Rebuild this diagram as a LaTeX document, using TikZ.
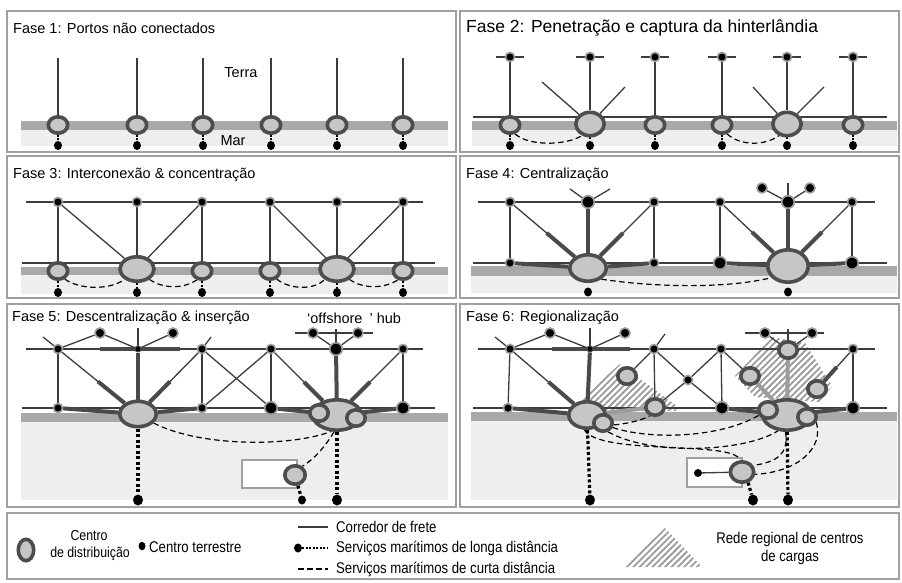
\documentclass[tikz,border=0pt]{standalone}
\usepackage{fontspec}
\setmainfont{Liberation Sans}
\newfontfamily\narrowfont[FakeStretch=0.85]{Liberation Sans}
\usetikzlibrary{shapes.geometric,patterns.meta,calc}
\pgfdeclarelayer{bg}\pgfdeclarelayer{lines}
\pgfsetlayers{bg,lines,main}
\definecolor{framec}{HTML}{A0A0A0}
\definecolor{bandc}{HTML}{A9A9A9}
\definecolor{seac}{HTML}{EEEEEE}
\definecolor{ringc}{HTML}{4D4D4D}
\definecolor{fillc}{HTML}{C6C6C6}
\definecolor{linec}{HTML}{3C3C3C}
\definecolor{thickc}{HTML}{4A4A4A}
\definecolor{grayc}{HTML}{9C9C9C}
\definecolor{tcring}{HTML}{9A9A9A}
\definecolor{hatchc}{HTML}{9A9A9A}
\begin{document}
\begin{tikzpicture}[x=1pt,y=-1pt,
 panelframe/.style={draw=framec,line width=2pt},
 dcn/.style={ellipse,draw=ringc,line width=3.6pt,fill=fillc,inner sep=0pt},
 dcs/.style={dcn,minimum width=19.4pt,minimum height=16.4pt},
 dcr/.style={dcn,minimum width=18.4pt,minimum height=16.4pt},
 tc/.style={circle,fill=black,draw=tcring,line width=1.6pt,minimum size=9pt,inner sep=0pt},
 tcm/.style={tc,minimum size=10pt},
 tcb/.style={tc,minimum size=12.5pt},
 tcs/.style={circle,fill=black,draw=thickc,line width=1pt,minimum size=6pt,inner sep=0pt},
 seadot/.style={ellipse,fill=black,minimum width=8pt,minimum height=9pt,inner sep=0pt},
 seadotb/.style={ellipse,fill=black,minimum width=10pt,minimum height=11pt,inner sep=0pt},
 cor/.style={draw=linec,line width=1.3pt},
 corthick/.style={draw=thickc,line width=4pt},
 corgray/.style={draw=grayc,line width=4pt},
 shortsea/.style={draw=black,line width=1.2pt,dash pattern=on 5.5pt off 3.5pt},
 longsea/.style={draw=black,line width=3.2pt,dash pattern=on 3pt off 2.5pt},
 link/.style={draw=black,line width=2.5pt,dash pattern=on 2pt off 1.5pt},
 ttl/.style={anchor=west,inner sep=0pt,font=\fontsize{14.5}{16}\selectfont},
 lbl/.style={inner sep=0pt,font=\fontsize{14.5}{16}\selectfont},
 lg/.style={inner sep=0pt,font=\narrowfont\fontsize{15.5}{17}\selectfont},
 hatch/.style={pattern={Lines[angle=45,distance=4.5pt,line width=1.8pt]},pattern color=hatchc},
 island/.style={draw=framec,line width=2.5pt,fill=white}
]
\useasboundingbox (0,0) rectangle (902,583);
\begin{pgfonlayer}{bg}
\fill[white] (0,0) rectangle (902,583);
\foreach \a/\b/\c/\d in {7/11/456/152,460/11/899/152,7/156/456/298,460/156/899/298,7/304/456/507,460/304/899/507,7/513/899/579}
  \draw[panelframe] (\a,\b) rectangle (\c,\d);
\fill[bandc] (21,121) rectangle (448,130); \fill[seac] (21,130) rectangle (448,146);
\fill[bandc] (472,121) rectangle (897,130); \fill[seac] (472,130) rectangle (897,146);
\fill[bandc] (21,267) rectangle (448,275); \fill[seac] (21,275) rectangle (448,294);
\fill[bandc] (471,266) rectangle (897,276); \fill[seac] (471,276) rectangle (897,293);
\fill[bandc] (21,413) rectangle (448,422); \fill[seac] (21,422) rectangle (448,500);
\fill[bandc] (471,412) rectangle (897,421); \fill[seac] (471,421) rectangle (897,500);
\fill[hatch] (574,405) -- (620,364) -- (677,406) -- (676,411) -- (600,411) -- cycle;
\fill[hatch] (735,376) -- (772,337) -- (805,343) -- (832,386) -- (820,402) -- (755,397) -- cycle;
\fill[hatch] (625,567) -- (665,528) -- (702,567) -- cycle;
\draw[island] (242,460) rectangle (297,488);
\draw[island] (687,458) rectangle (742,487);
\end{pgfonlayer}

% titles
\node[ttl] (ti1) at (13,28) {Fase 1: Portos não conectados};
\node[ttl,font=\fontsize{17.5}{19}\selectfont] (ti2) at (466,28) {Fase 2: Penetração e captura da hinterlândia};
\node[ttl] (ti3) at (13,175) {Fase 3: Interconexão \& concentração};
\node[ttl] (ti4) at (466,175) {Fase 4: Centralização};
\node[ttl] (ti5) at (12,318) {Fase 5: Descentralização \& inserção};
\node[ttl] (ti6) at (466,318) {Fase 6: Regionalização};
\node[ttl] (offh) at (307,318) {‘offshore\hspace{7pt}’ hub};
\node[lbl] (terra) at (241,73) {Terra};
\node[lbl] (mar) at (233,141) {Mar};

% ---------- Panel 1
\foreach \i/\x in {1/58,2/137,3/203,4/271,5/337,6/403}{
  \node[dcs] (p1b\i) at (\x,125) {};
  \node[seadot] (p1s\i) at (\x,145.5) {};
  \coordinate (p1t\i) at (\x,58);
  \begin{pgfonlayer}{lines}
  \draw[cor] (p1t\i) -- (p1b\i);
  \draw[link] (p1b\i) -- (p1s\i);
  \end{pgfonlayer}
}

% ---------- Panel 2
\node[dcs] (p2b1) at (510,125) {};
\node[dcn,minimum width=28.4pt,minimum height=23.4pt] (p2b2) at (590,124) {};
\node[dcs] (p2b3) at (655,125) {};
\node[dcs] (p2b4) at (722,125) {};
\node[dcn,minimum width=28.4pt,minimum height=23.4pt] (p2b5) at (787,124) {};
\node[dcs] (p2b6) at (853,125) {};
\coordinate (p2L) at (473,117); \coordinate (p2R) at (887,117);
\coordinate (p2d1) at (542,82); \coordinate (p2d2) at (625,87);
\coordinate (p2d3) at (753,87); \coordinate (p2d4) at (824,87);
\foreach \i/\x in {1/510,2/590,3/655,4/722,5/787,6/853}{
  \node[tc] (p2t\i) at (\x,57) {};
  \node[seadot] (p2s\i) at (\x,145.5) {};
  \begin{pgfonlayer}{lines}
  \draw[cor] ([xshift=-14pt]p2t\i.center) -- ([xshift=14pt]p2t\i.center);
  \draw[cor] (p2t\i) -- (p2b\i);
  \draw[link] (p2b\i) -- (p2s\i);
  \end{pgfonlayer}
}
\begin{pgfonlayer}{lines}
\draw[cor] (p2L) -- (p2R);
\draw[cor] (p2b2) -- (p2d1); \draw[cor] (p2b2) -- (p2d2);
\draw[cor] (p2b5) -- (p2d3); \draw[cor] (p2b5) -- (p2d4);
\draw[shortsea] (p2b1.-60) .. controls (528,146) and (565,146) .. (p2b2.-125);
\draw[shortsea] (p2b4.-60) .. controls (740,146) and (765,146) .. (p2b5.-125);
\end{pgfonlayer}

% ---------- Panel 3
\node[dcs] (p3b1) at (58,271) {};
\node[dcn,minimum width=34pt,minimum height=24.4pt] (p3b2) at (137,269) {};
\node[dcs] (p3b3) at (202,271) {};
\node[dcs] (p3b4) at (270,271) {};
\node[dcn,minimum width=34pt,minimum height=24.4pt] (p3b5) at (337,269) {};
\node[dcs] (p3b6) at (403,271) {};
\coordinate (p3L) at (26,202); \coordinate (p3R) at (423,202);
\coordinate (p3BL) at (22,263); \coordinate (p3BR) at (435,263);
\foreach \i/\x in {1/58,2/137,3/202,4/270,5/337,6/403}{
  \node[tc] (p3t\i) at (\x,202) {};
  \node[seadot] (p3s\i) at (\x,292.5) {};
  \begin{pgfonlayer}{lines}
  \draw[cor] (p3t\i) -- (p3b\i);
  \draw[link] (p3b\i) -- (p3s\i);
  \end{pgfonlayer}
}
\begin{pgfonlayer}{lines}
\draw[cor] (p3L) -- (p3R);
\draw[cor] (p3BL) -- (p3BR);
\draw[cor] (p3t1) -- (p3b2); \draw[cor] (p3t3) -- (p3b2);
\draw[cor] (p3t4) -- (p3b5); \draw[cor] (p3t6) -- (p3b5);
\draw[shortsea] (p3b1.-50) .. controls (80,290) and (110,290) .. (p3b2.-140);
\draw[shortsea] (p3b2.-40) .. controls (165,290) and (185,288) .. (p3b3.-120);
\draw[shortsea] (p3b4.-50) .. controls (290,290) and (315,290) .. (p3b5.-140);
\draw[shortsea] (p3b5.-40) .. controls (365,290) and (385,288) .. (p3b6.-120);
\end{pgfonlayer}

% ---------- Panel 4
\node[tc] (p4t1) at (510,202) {};
\node[tcb] (p4t2) at (588,202) {};
\node[tc] (p4t3) at (654,202) {};
\node[tc] (p4t4) at (720,202) {};
\node[tcb] (p4t5) at (788,202) {};
\node[tc] (p4t6) at (852,202) {};
\node[tcm] (p4u1) at (762,188) {};
\node[tcm] (p4u2) at (810,188) {};
\coordinate (p4e1) at (570,189); \coordinate (p4e2) at (610,189); \coordinate (p4e3) at (788,183);
\node[tc] (p4b1) at (510,263) {};
\node[dcn,minimum width=36.4pt,minimum height=26.4pt] (p4b2) at (588,268) {};
\node[tc] (p4b3) at (654,263) {};
\node[tcb] (p4b4) at (720,263) {};
\node[dcn,minimum width=40.4pt,minimum height=32.4pt] (p4b5) at (788,266) {};
\node[tcb] (p4b6) at (852,263) {};
\node[seadot] (p4s2) at (588,292) {};
\node[seadot] (p4s5) at (788,292) {};
\coordinate (p4L) at (478,202); \coordinate (p4R) at (875,202);
\coordinate (p4BL) at (473,263); \coordinate (p4BR) at (887,263);
\begin{pgfonlayer}{lines}
\draw[cor] (p4L) -- (p4R);
\draw[cor] (p4BL) -- (p4BR);
\draw[cor] (p4t2) -- (p4e1); \draw[cor] (p4t2) -- (p4e2);
\draw[cor] (p4t5) -- (p4e3); \draw[cor] (p4t5) -- (p4u1); \draw[cor] (p4t5) -- (p4u2);
\draw[corthick] (p4b1) -- (p4b2); \draw[corthick] (p4b2) -- (p4b3);
\draw[corthick] (p4b4) -- (p4b5); \draw[corthick] (p4b5) -- (p4b6);
\draw[corthick] (p4t2) -- (p4b2); \draw[corthick] (p4t5) -- (p4b5);
\foreach \i in {1,3,4,6} \draw[cor] (p4t\i) -- (p4b\i);
\foreach \a/\b in {1/2,3/2,4/5,6/5}{
  \draw[cor] (p4t\a) -- (p4b\b);
  \draw[corthick] ($(p4t\a)!0.47!(p4b\b)$) -- (p4b\b);
}
\draw[shortsea] (p4b2.-40) .. controls (660,288) and (730,288) .. (p4b5.-145);
\end{pgfonlayer}

% ---------- Panel 5
\node[tc] (p5t1) at (58,349) {};
\node[tcs] (p5t2) at (138,349) {};
\node[tc] (p5t3) at (202,349) {};
\node[tc] (p5t4) at (271,349) {};
\node[tcb] (p5t5) at (336,349) {};
\node[tc] (p5t6) at (403,349) {};
\node[tcm] (p5u1) at (100,333) {};
\node[tcm] (p5u2) at (173,333) {};
\node[tcm] (p5o1) at (313,333) {};
\node[tcm] (p5o2) at (358,333) {};
\coordinate (p5e1) at (43,337); \coordinate (p5e2) at (138,328); \coordinate (p5e3) at (211,337);
\coordinate (p5e4) at (336,329);
\coordinate (p5k1) at (100,349); \coordinate (p5k2) at (180,349);
\coordinate (p5oL) at (295,333); \coordinate (p5oR) at (373,333);
\coordinate (p5L) at (26,349); \coordinate (p5R) at (423,349);
\coordinate (p5BL) at (22,408); \coordinate (p5BR) at (435,408);
\node[tc] (p5b1) at (58,408) {};
\node[dcn,minimum width=36.4pt,minimum height=25.4pt] (p5b2) at (138,414) {};
\node[tc] (p5b3) at (202,408) {};
\node[tcb] (p5b4) at (271,408) {};
\node[dcn,minimum width=48.4pt,minimum height=30.4pt] (p5hub) at (337,415) {};
\node[dcr] (p5hl) at (319,413) {};
\node[dcr] (p5hr) at (356,418) {};
\node[tcb] (p5b6) at (403,408) {};
\node[dcn,minimum width=20.4pt,minimum height=18.4pt] (p5isl) at (295,475) {};
\node[seadotb] (p5s2) at (138,500) {};
\node[seadotb] (p5shub) at (337,500) {};
\node[seadot] (p5sisl) at (302,500) {};
\begin{pgfonlayer}{lines}
\draw[cor] (p5L) -- (p5R);
\draw[cor] (p5BL) -- (p5BR);
\draw[corthick] (p5k1) -- (p5k2);
\draw[cor] (p5t1) -- (p5e1); \draw[cor] (p5t2) -- (p5e2); \draw[cor] (p5t3) -- (p5e3);
\draw[cor] (p5t1) -- (p5u1); \draw[cor] (p5u1) -- (p5t2); \draw[cor] (p5t2) -- (p5u2);
\draw[cor] (p5oL) -- (p5oR);
\draw[cor] (p5t5) -- (p5e4); \draw[cor] (p5t5) -- (p5o1); \draw[cor] (p5t5) -- (p5o2);
\draw[corthick] (p5b1) -- (p5b2); \draw[corthick] (p5b2) -- (p5b3);
\draw[corthick] (p5b4) -- (p5hub); \draw[corthick] (p5hub) -- (p5b6);
\draw[corthick] (p5t2) -- (p5b2); \draw[corthick] (p5t5) -- (p5hub);
\foreach \i in {1,3,4,6} \draw[cor] (p5t\i) -- (p5b\i);
\draw[cor] (p5t3) -- (p5b4); \draw[cor] (p5t4) -- (p5b3);
\draw[cor] (p5t1) -- (p5b2); \draw[corthick] ($(p5t1)!0.5!(p5b2)$) -- (p5b2);
\draw[cor] (p5t3) -- (p5b2); \draw[corthick] ($(p5t3)!0.5!(p5b2)$) -- (p5b2);
\draw[cor] (p5t4) -- (p5hub); \draw[corthick] ($(p5t4)!0.5!(p5hub)$) -- (p5hub);
\draw[cor] (p5t6) -- (p5hub); \draw[corthick] ($(p5t6)!0.5!(p5hub)$) -- (p5hub);
\draw[shortsea] (p5b2.-30) .. controls (200,447) and (290,447) .. (p5hub.-110);
\draw[shortsea] (p5hub.-100) .. controls (326,445) and (316,458) .. (p5isl.50);
\draw[longsea] (p5b2) -- (p5s2);
\draw[longsea] (p5hub) -- (p5shub);
\draw[longsea] (p5isl) -- (p5sisl);
\end{pgfonlayer}

% ---------- Panel 6
\node[tc] (p6t1) at (510,349) {};
\node[tcs] (p6t2) at (590,349) {};
\node[tc] (p6t3) at (654,349) {};
\node[tc] (p6t4) at (721,349) {};
\node[dcr] (p6t5) at (788,350) {};
\node[tc] (p6t6) at (853,349) {};
\node[tcm] (p6u1) at (550,333) {};
\node[tcm] (p6u2) at (625,333) {};
\node[tcm] (p6o1) at (765,333) {};
\node[tcm] (p6o2) at (812,333) {};
\node[tc] (p6m) at (688,380) {};
\node[dcr] (p6r1) at (627,376) {};
\node[dcr] (p6r2) at (750,376) {};
\node[dcr] (p6r3) at (817,389) {};
\coordinate (p6e1) at (495,337); \coordinate (p6e2) at (590,328); \coordinate (p6e3) at (665,334);
\coordinate (p6e4) at (788,329);
\coordinate (p6k1) at (552,349); \coordinate (p6k2) at (630,349);
\coordinate (p6oL) at (745,333); \coordinate (p6oR) at (824,333);
\coordinate (p6L) at (478,349); \coordinate (p6R) at (875,349);
\coordinate (p6BL) at (473,408); \coordinate (p6BR) at (887,408);
\node[tc] (p6b1) at (508,408) {};
\node[dcn,minimum width=36.4pt,minimum height=26.4pt] (p6B) at (587,415) {};
\node[dcr] (p6Bs) at (603,423) {};
\node[dcr] (p6b3) at (655,407) {};
\node[tcb] (p6b4) at (722,408) {};
\node[dcn,minimum width=48.4pt,minimum height=30.4pt] (p6hub) at (787,415) {};
\node[dcr] (p6hl) at (768,410) {};
\node[dcr] (p6hr) at (807,417) {};
\node[tcb] (p6b6) at (853,408) {};
\node[dcn,minimum width=23.4pt,minimum height=20.4pt] (p6isl) at (742,472) {};
\node[circle,fill=black,minimum size=8pt,inner sep=0pt] (p6id) at (698,473) {};
\node[seadotb] (p6sB) at (590,500) {};
\node[seadotb] (p6shub) at (788,500) {};
\node[seadotb] (p6sisl) at (753,500) {};
\begin{pgfonlayer}{lines}
\draw[cor] (p6L) -- (p6R);
\draw[cor] (p6BL) -- (p6BR);
\draw[corthick] (p6k1) -- (p6k2);
\draw[cor] (p6t1) -- (p6e1); \draw[cor] (p6t2) -- (p6e2); \draw[cor] (p6t3) -- (p6e3);
\draw[cor] (p6t1) -- (p6u1); \draw[cor] (p6u1) -- (p6t2); \draw[cor] (p6t2) -- (p6u2);
\draw[cor] (p6oL) -- (p6oR);
\draw[cor] (p6t5) -- (p6e4); \draw[cor] (p6t5) -- (p6o1); \draw[cor] (p6t5) -- (p6o2);
\draw[cor] (p6t1) -- (p6b1);
\draw[cor] (p6t1) -- (p6B); \draw[corthick] ($(p6t1)!0.5!(p6B)$) -- (p6B);
\draw[corthick] (p6t2) -- (p6B);
\draw[cor] (p6t3) -- (p6r1);
\draw[cor] (p6t3) -- (p6b3);
\draw[cor] (p6t3) -- (p6m); \draw[cor] (p6m) -- (p6b4);
\draw[cor] (p6t4) -- (p6m); \draw[cor] (p6m) -- (p6b3);
\draw[cor] (p6t4) -- (p6b4);
\draw[cor] (p6t4) -- (p6r2);
\draw[cor] (p6t6) -- (p6r3); \draw[corthick] ($(p6t6)!0.45!(p6r3)$) -- (p6r3);
\draw[cor] (p6t6) -- (p6b6);
\draw[corthick] (p6b1) -- (p6B);
\draw[corgray] (p6B) -- (p6b3);
\draw[corthick] (p6b4) -- (p6hub); \draw[corthick] (p6hub) -- (p6b6);
\draw[corgray] (p6t5) -- (p6hub);
\draw[corgray] (p6r2) -- (p6hub);
\draw[cor] (p6id) -- (p6isl);
\draw[shortsea] (p6Bs.-10) .. controls (625,424) and (640,421) .. (p6b3.-120);
\draw[shortsea] (p6Bs.-25) .. controls (650,440) and (720,438) .. (p6hl.-150);
\draw[shortsea] (p6Bs.-60) .. controls (650,456) and (745,452) .. (p6hub.-120);
\draw[shortsea] (p6B.-100) .. controls (600,456) and (735,440) .. (p6isl.100);
\draw[shortsea] (p6hub.-95) .. controls (789,455) and (776,462) .. (p6isl.30);
\draw[shortsea] (p6hr.-30) .. controls (824,448) and (798,472) .. (p6isl.-10);
\draw[longsea] (p6B) -- (p6sB);
\draw[longsea] (p6hub) -- (p6shub);
\draw[longsea] (p6isl.-60) -- (p6sisl);
\end{pgfonlayer}

% ---------- Legend
\node[dcn,minimum width=15.4pt,minimum height=21.4pt] (lgdc) at (26,550) {};
\node[lg,font=\narrowfont\fontsize{14.5}{16}\selectfont] (lgdc1) at (89,535.5) {Centro};
\node[lg,font=\narrowfont\fontsize{14.5}{16}\selectfont] (lgdc2) at (90,554) {de distribuição};
\node[ellipse,fill=black,minimum width=7pt,minimum height=8.5pt,inner sep=0pt] (lgtc) at (142,546) {};
\node[lg,anchor=west] (lgtct) at (149,547) {Centro terrestre};
\coordinate (lga1) at (298,527); \coordinate (lga2) at (328,527);
\node[lg,anchor=west] (lgat) at (336,527) {Corredor de frete};
\node[ellipse,fill=black,minimum width=8pt,minimum height=9pt,inner sep=0pt] (lgbd) at (298,548) {};
\coordinate (lgb2) at (328,548);
\node[lg,anchor=west] (lgbt) at (336,548) {Serviços marítimos de longa distância};
\coordinate (lgc1) at (298,569); \coordinate (lgc2) at (328,569);
\node[lg,anchor=west] (lgct) at (336,569) {Serviços marítimos de curta distância};
\node[lg] (lgr1) at (790,539) {Rede regional de centros};
\node[lg] (lgr2) at (790,557) {de cargas};
\begin{pgfonlayer}{lines}
\draw[cor] (lga1) -- (lga2);
\draw[draw=black,line width=2.5pt,dash pattern=on 2pt off 1.5pt] (lgbd) -- (lgb2);
\draw[shortsea] (lgc1) -- (lgc2);
\end{pgfonlayer}
\end{tikzpicture}
\end{document}
